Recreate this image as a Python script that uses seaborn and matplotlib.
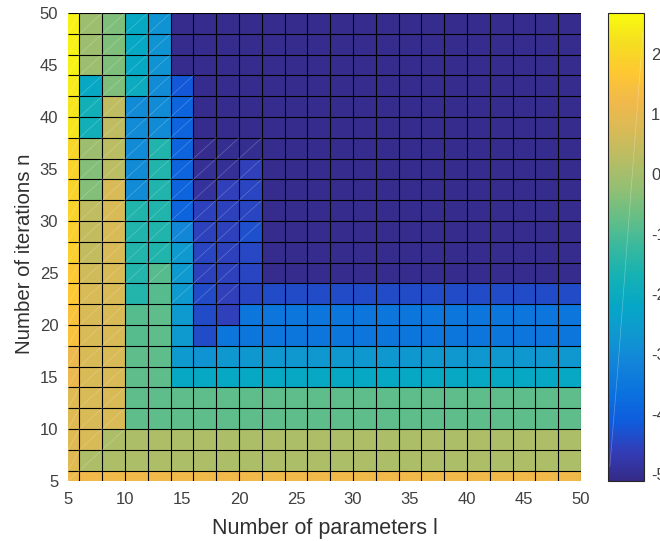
import matplotlib
matplotlib.use('Agg')
import matplotlib.pyplot as plt
import seaborn as sns
import numpy as np
from matplotlib.colors import LinearSegmentedColormap

sns.set_style('white')
plt.rcParams['font.family'] = ['Liberation Sans', 'DejaVu Sans']

# cell edges, same for both axes
edges = [5, 6] + list(range(8, 51, 2))
ticks = [5, 10, 15, 20, 25, 30, 35, 40, 45, 50]
cbar_ticks = [2, 1, 0, -1, -2, -3, -4, -5]
vmin, vmax = -5.12, 2.68

# values per column, listed from n=5 (bottom) to n=50 (top)
col_5 = [1.1, 0.85, 0.85, 0.85, 0.85, 1.07, 1.07, 1.5, 1.5, 1.7, 1.7, 1.85, 1.85,
         1.94, 1.94, 1.94, 2.0, 2.3, 2.3, 2.4, 2.5, 2.5, 2.5]
col_6 = [1.2, 0.1, 0.7, 0.7, 0.7, 0.7, 0.7, 0.7, 0.7, 0.7, 0.6, 0.4, 0.4,
         0.34, -0.4, -0.4, -0.1, -1.8, -1.8, -2.15, -0.1, -0.1, -0.1]
col_8 = [1.2, 0.1, 0.1, 0.7, 0.7, 0.7, 0.7, 0.7, 0.7, 0.7, 0.7, 0.7, 0.7,
         0.7, 0.7, 0.3, 0.3, 0.34, 0.34, -0.45, -0.45, -0.45, -0.45]
col_10 = [1.2, 0.1, 0.1, -0.8, -0.8, -0.8, -0.8, -0.9, -0.9, -1.5, -1.5, -1.5, -1.53,
          -1.53, -3.0, -3.0, -3.0, -3.0, -3.0, -2.0, -2.15, -2.15, -2.15]
col_12 = [1.2, 0.1, 0.1, -0.8, -0.8, -0.8, -0.8, -0.8, -0.8, -0.9, -0.9, -1.55, -1.55,
          -1.55, -1.55, -1.55, -1.55, -3.0, -3.0, -3.0, -2.8, -2.8, -2.8]
col_14 = [1.2, 0.1, 0.1, -0.8, -0.8, -2.15, -2.65, -2.6, -2.6, -2.6, -2.6, -2.6, -3.1,
          -3.95, -3.95, -3.95, -3.95, -3.95, -3.95, -4.18, -5.05, -5.05, -5.05]
col_16 = [1.2, 0.1, 0.1, -0.8, -0.8, -2.15, -2.8, -4.4, -4.4, -4.4, -4.55, -4.5, -4.55,
          -4.55, -4.9, -4.95, -5.05, -5.05, -5.05, -5.05, -5.05, -5.05, -5.05]
col_18 = [1.2, 0.1, 0.1, -0.8, -0.8, -2.15, -2.7, -3.55, -4.6, -4.6, -4.55, -4.55, -4.55,
          -4.55, -4.6, -4.95, -5.0, -5.05, -5.05, -5.05, -5.05, -5.05, -5.05]
col_20 = [1.2, 0.1, 0.1, -0.8, -0.8, -2.15, -2.7, -3.55, -3.55, -4.5, -4.5, -4.45, -4.35,
          -4.5, -4.5, -4.6, -5.0, -5.05, -5.05, -5.05, -5.05, -5.05, -5.05]
col_rest = [1.2, 0.1, 0.1, -0.8, -0.8, -2.15, -2.7, -3.55, -3.55, -4.4, -5.05, -5.05, -5.05,
            -5.05, -5.05, -5.05, -5.05, -5.05, -5.05, -5.05, -5.05, -5.05, -5.05]
columns = [col_5, col_6, col_8, col_10, col_12, col_14, col_16, col_18, col_20] + [col_rest] * 14

parula_stops = ['#352A87', '#323DB8', '#0F5CDD', '#0A72DE', '#1284D9', '#0F98D0', '#06A7C6',
                '#15B1B4', '#38B99E', '#65BE86', '#92BF73', '#B7BD64', '#D9BA56',
                '#F1B94A', '#FEC832', '#F5DE21', '#F9FB0E']
parula = LinearSegmentedColormap.from_list('parula', parula_stops)

# repeat cells to one row/column per unit, heatmap only does uniform cells
widths = np.diff(edges)
z = np.array(columns).T
z = np.repeat(np.repeat(z, widths, axis=0), widths, axis=1)

fig = plt.figure(figsize=(6.6, 5.41), dpi=100)
ax = fig.add_axes([68 / 660, 1 - 481 / 541, 513 / 660, 468 / 541])
cax = fig.add_axes([608 / 660, 1 - 481 / 541, 36 / 660, 468 / 541])

sns.heatmap(z, ax=ax, cbar_ax=cax, cmap=parula, vmin=vmin, vmax=vmax,
            xticklabels=False, yticklabels=False, square=False)
ax.set_ylim(0, 45)

pos = np.array(edges) - 5
ax.vlines(pos[1:], 0, 45, color='black', lw=0.8)
ax.hlines(pos[1:], 0, 45, color='black', lw=0.8)

# faint diagonals left by the surface triangles
diag_from = [0, 1, 2, 10, 10, 9, 9, 9, 12]
diag_to = [22, 22, 22, 22, 22, 19, 16, 16, 16]
for i in range(9):
    for j in range(diag_from[i], diag_to[i] + 1):
        ax.plot(pos[[i, i + 1]], pos[[j, j + 1]], color='white', lw=0.5, alpha=0.25)

for s in ax.spines.values():
    s.set_visible(False)

ax.set_xticks(np.array(ticks) - 5)
ax.set_yticks(np.array(ticks) - 5)
ax.set_xticklabels(ticks, rotation=0)
ax.set_yticklabels(ticks, rotation=0)
ax.tick_params(length=0, labelsize=12, labelcolor='#404040', bottom=True, left=True)
ax.tick_params(axis='x', pad=8)
ax.tick_params(axis='y', pad=7)
ax.set_xlabel('Number of parameters l', fontsize=15.5, color='#303030')
ax.set_ylabel('Number of iterations n', fontsize=14.7, color='#303030')
ax.xaxis.set_label_coords(0.5, -0.079)
ax.yaxis.set_label_coords(-0.066, 0.486)

cbar = ax.collections[0].colorbar
cbar.set_ticks(cbar_ticks)
cbar.set_ticklabels([str(t) for t in cbar_ticks])
cbar.outline.set_visible(True)
cbar.outline.set_edgecolor('#262626')
cbar.outline.set_linewidth(0.8)
cax.tick_params(direction='in', length=4, width=0.6, color='#262626', labelsize=12,
                labelcolor='#404040', pad=5, right=True)
# same faint artefact runs through the colorbar
cax.plot([0.05, 0.28, 0.55, 0.83, 0.97], [-4.88, -3.2, -1.0, 1.23, 2.35],
         color='white', lw=0.5, alpha=0.3, transform=cax.get_yaxis_transform())

fig.savefig('out.png', dpi=100)
